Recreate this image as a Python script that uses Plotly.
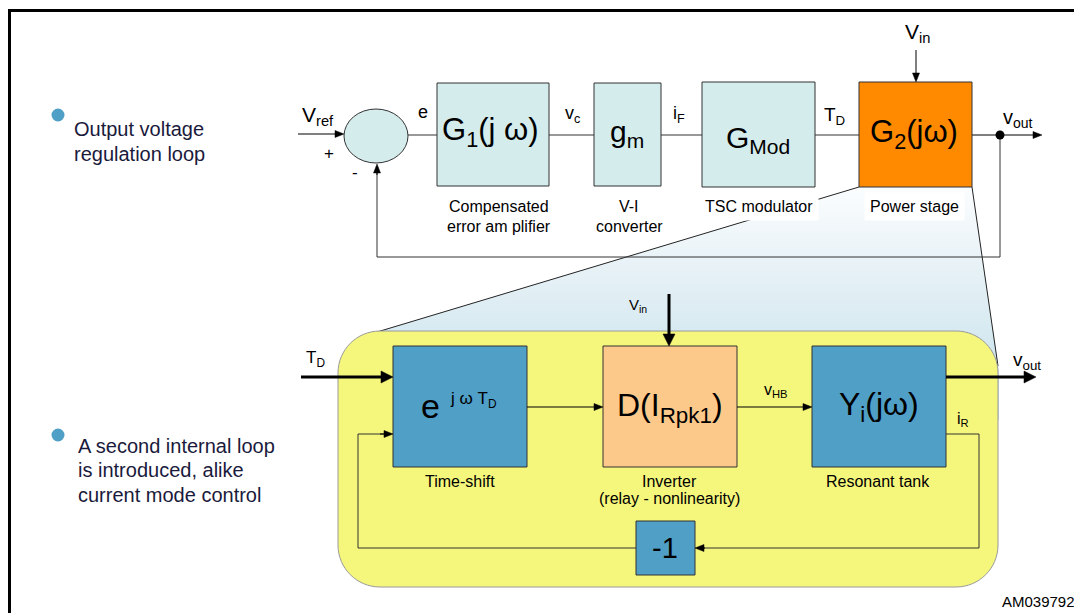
import math
import plotly.graph_objects as go

W, H = 1082, 613
OFF = 8  # page body margin in the viewer
FONT = "Arial, 'Liberation Sans', sans-serif"

# ---------------- text content ----------------
bullet_lines_1 = ["Output voltage", "regulation loop"]
bullet_lines_2 = ["A second internal loop", "is introduced, alike", "current mode control"]

top_block_labels = ["G<sub>1</sub>(j ω)", "g<sub>m</sub>", "G<sub>Mod</sub>", "G<sub>2</sub>(jω)"]
top_captions = ["Compensated", "error am plifier", "V-I", "converter", "TSC modulator", "Power stage"]
top_signals = ["V<sub>ref</sub>", "+", "-", "e", "v<sub>c</sub>", "i<sub>F</sub>", "T<sub>D</sub>",
               "v<sub>out</sub>", "V<sub>in</sub>"]

bottom_block_labels = ["D(I<sub>Rpk1</sub>)", "Y<sub>i</sub>(jω)", "-1"]
bottom_captions = ["Time-shift", "Inverter", "(relay - nonlinearity)", "Resonant tank"]
bottom_signals = ["T<sub>D</sub>", "V<sub>in</sub>", "v<sub>HB</sub>", "v<sub>out</sub>", "i<sub>R</sub>"]
doc_id = "AM039792"

# ---------------- colours ----------------
TEAL = "#d4ecec"
ORANGE = "#ff8a00"
STEEL = "#4f9fc7"
PEACH = "#fdc98a"
YELLOW = "#f5f67c"
NAVY = "#1a1a3c"
LINE = "#333333"

fig = go.Figure()

# funnel (zoom) gradient area
fig.add_trace(go.Scatter(
    x=[859, 972, 999, 999, 377, 377, 859],
    y=[187, 187, 372, 420, 420, 332, 187],
    mode="lines", fill="toself", line=dict(width=0),
    fillgradient=dict(type="vertical",
                      colorscale=[[0, "#c2e0eb"], [0.6, "#e4f0f5"], [1, "#fbfdfe"]]),
    hoverinfo="skip", showlegend=False))

shapes = []
annos = []


def line(pts, color=LINE, width=1):
    p = "M" + " L".join(f"{x},{y}" for x, y in pts)
    shapes.append(dict(type="path", path=p, line=dict(color=color, width=width),
                       xref="x", yref="y"))


def rect(x0, y0, x1, y1, fill, lc=LINE, lw=1):
    shapes.append(dict(type="rect", x0=x0, y0=y0, x1=x1, y1=y1, fillcolor=fill,
                       line=dict(color=lc, width=lw), xref="x", yref="y"))


def head(xt, yt, ux, uy, L=9, w=3.5, color="black"):
    bx, by = xt - L * ux, yt - L * uy
    nx, ny = -uy, ux
    p = (f"M{xt},{yt} L{bx + w*nx},{by + w*ny} L{bx - w*nx},{by - w*ny} Z")
    shapes.append(dict(type="path", path=p, fillcolor=color, line=dict(color=color, width=0.5),
                       xref="x", yref="y"))


def arrow(x0, y0, x1, y1, width=1, thick=False, color="black"):
    d = math.hypot(x1 - x0, y1 - y0)
    ux, uy = (x1 - x0) / d, (y1 - y0) / d
    L, w = (12, 6) if thick else (9, 3.5)
    line([(x0, y0), (x1 - (L - 1) * ux, y1 - (L - 1) * uy)], color=color, width=width)
    head(x1, y1, ux, uy, L, w, color)


def text(x, y, s, size=15, color="black", anchor="center", bg=None, pad=1):
    d = dict(x=x, y=y, xref="x", yref="y", text=s, showarrow=False,
             font=dict(family=FONT, size=size, color=color), xanchor=anchor, yanchor="middle")
    if bg:
        d.update(bgcolor=bg, borderpad=pad)
    annos.append(d)


def rrect_path(x0, y0, x1, y1, r):
    k = 0.5523 * r
    return (f"M{x0+r},{y0} L{x1-r},{y0} C{x1-r+k},{y0} {x1},{y0+r-k} {x1},{y0+r} "
            f"L{x1},{y1-r} C{x1},{y1-r+k} {x1-r+k},{y1} {x1-r},{y1} "
            f"L{x0+r},{y1} C{x0+r-k},{y1} {x0},{y1-r+k} {x0},{y1-r} "
            f"L{x0},{y0+r} C{x0},{y0+r-k} {x0+r-k},{y0} {x0+r},{y0} Z")


# frame
line([(4, 10.5), (1082, 10.5)], color="black", width=3)
line([(9.5, 10), (9.5, 613)], color="black", width=3)

# funnel edges
line([(859, 187), (377, 332)], color="#222222", width=1)
line([(972, 187), (998, 366)], color="#222222", width=1)

# ---------------- top loop ----------------
line([(408, 135), (437, 135)])
line([(549, 135), (594, 135)])
line([(661, 135), (702, 135)])
line([(815, 135), (859, 135)])
line([(1000, 135), (1000, 257), (377, 257), (377, 170)])
arrow(972, 135, 1042, 135)
arrow(377, 175, 377, 164)
arrow(298, 134, 344, 134)
arrow(916, 50, 916, 82)

# summing junction
shapes.append(dict(type="circle", x0=344, y0=109, x1=408, y1=163, fillcolor=TEAL,
                   line=dict(color=LINE, width=1), xref="x", yref="y"))
# output dot
shapes.append(dict(type="circle", x0=995.5, y0=130.5, x1=1004.5, y1=139.5, fillcolor="black",
                   line=dict(color="black", width=0), xref="x", yref="y"))

top_boxes = [(437, 83, 549, 186, TEAL), (594, 83, 661, 186, TEAL),
             (702, 82, 815, 187, TEAL), (859, 82, 972, 187, ORANGE)]
top_box_text_pos = [(490, 132, 31), (627, 133, 30), (758, 139, 30), (914, 134, 31)]
for (x0, y0, x1, y1, c), lab, (tx, ty, sz) in zip(top_boxes, top_block_labels, top_box_text_pos):
    rect(x0, y0, x1, y1, c)
    text(tx, ty, lab, size=sz)

top_caption_pos = [(499, 206), (499, 226), (629, 206), (629, 226), (759, 206), (914, 206)]
for s, (x, y) in zip(top_captions, top_caption_pos):
    bg = "white" if s in ("TSC modulator", "Power stage") else None
    text(x, y, s, size=16, bg=bg, pad=5)

top_sig_pos = [(318, 116, 21), (329, 153, 17), (355, 172, 17), (423, 112, 18), (572, 114, 18),
               (679, 114, 18), (834, 116, 19), (1018, 118, 20), (917, 33, 21)]
for s, (x, y, sz) in zip(top_signals, top_sig_pos):
    text(x, y, s, size=sz)

# ---------------- bottom (inner) loop ----------------
shapes.append(dict(type="path", path=rrect_path(338, 331, 998, 587, 42), fillcolor=YELLOW,
                   line=dict(color="#9a9a9a", width=1), xref="x", yref="y"))

bottom_boxes = [(393, 346, 527, 467, STEEL), (603, 346, 737, 467, PEACH),
                (812, 346, 946, 467, STEEL), (636, 521, 695, 575, STEEL)]
for x0, y0, x1, y1, c in bottom_boxes:
    rect(x0, y0, x1, y1, c)

arrow(527, 407, 603, 407)
arrow(737, 407, 812, 407)
line([(946, 434), (979, 434), (979, 548), (702, 548)])
arrow(705, 548, 695, 548)
line([(636, 548), (358, 548), (358, 434), (386, 434)])
arrow(380, 434, 393, 434)
arrow(301, 377, 393, 377, width=3, thick=True)
arrow(946, 377, 1036, 377, width=3, thick=True)
arrow(669, 294, 669, 346, width=3, thick=True)

# block texts
text(430, 406, "e", size=34)
text(473, 400, "j ω T<sub>D</sub>", size=17)
bottom_box_text_pos = [(670, 407, 32), (879, 406, 32), (665, 548, 29)]
for s, (x, y, sz) in zip(bottom_block_labels, bottom_box_text_pos):
    text(x, y, s, size=sz)

bottom_caption_pos = [(460, 481), (669, 481), (669, 498), (878, 481)]
for s, (x, y) in zip(bottom_captions, bottom_caption_pos):
    text(x, y, s, size=16)

bottom_sig_pos = [(315, 359, 17), (638, 305, 15), (776, 390, 16), (1027, 361, 19), (963, 419, 16)]
for s, (x, y, sz) in zip(bottom_signals, bottom_sig_pos):
    text(x, y, s, size=sz)

text(1077, 601, doc_id, size=15, anchor="right")

# ---------------- bullets ----------------
for cy in (115, 435):
    shapes.append(dict(type="circle", x0=51.5, y0=cy - 6.5, x1=64.5, y1=cy + 6.5,
                       fillcolor=STEEL, line=dict(width=0), xref="x", yref="y"))
for s, y in zip(bullet_lines_1, (129, 154)):
    text(72, y, s, size=20, color=NAVY, anchor="left")
for s, y in zip(bullet_lines_2, (446, 470, 495)):
    text(76, y, s, size=20, color=NAVY, anchor="left")

# the viewer page has an 8px body margin: size the figure so page pixels == data units
fig.update_layout(
    width=W - OFF, height=H - OFF, margin=dict(l=0, r=0, t=0, b=0),
    paper_bgcolor="white", plot_bgcolor="white",
    xaxis=dict(range=[OFF, W], visible=False, fixedrange=True),
    yaxis=dict(range=[H, OFF], visible=False, fixedrange=True),
    shapes=shapes, annotations=annos, showlegend=False,
)

fig.write_html("out.html")
